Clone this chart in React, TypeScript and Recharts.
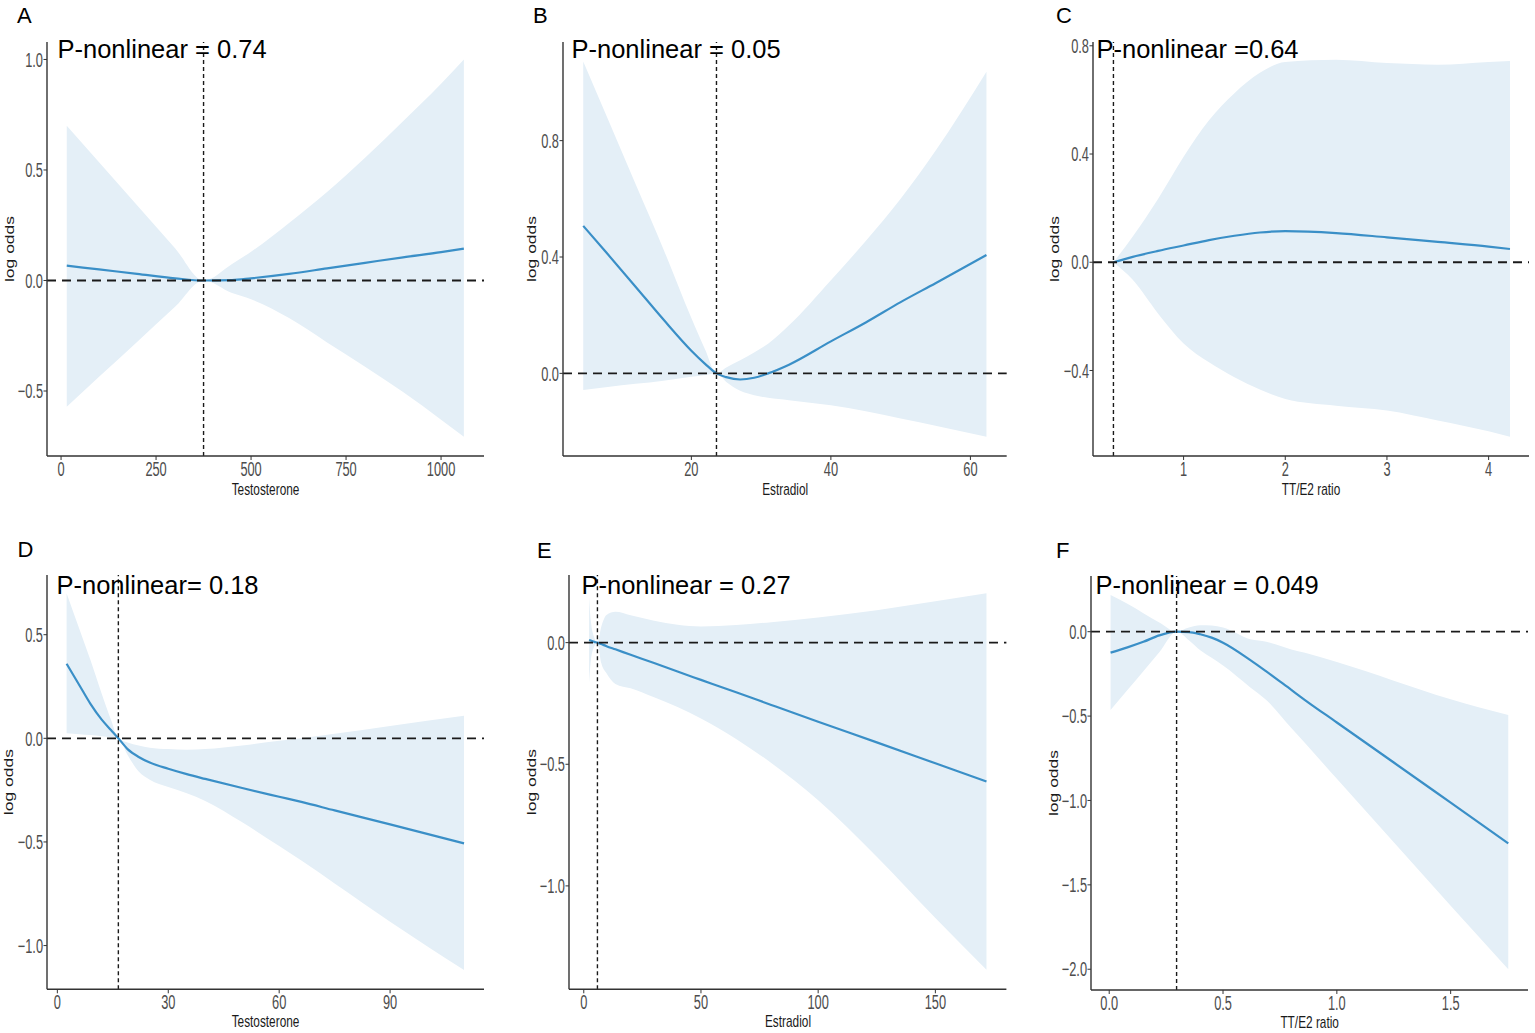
import React from "react";
import { ComposedChart, Area, Line, XAxis, YAxis, ReferenceLine } from "recharts";

// ---------- data ----------
// A: Testosterone (top row)
const aX = [15, 100, 200, 300, 375, 450, 500, 600, 700, 800, 900, 1000, 1060];
const aFit = [0.067, 0.05, 0.03, 0.01, 0, 0.002, 0.01, 0.03, 0.055, 0.08, 0.105, 0.128, 0.144];
const aLow = [-0.571, -0.436, -0.278, -0.119, 0, -0.057, -0.085, -0.17, -0.28, -0.39, -0.505, -0.63, -0.707];
const aHigh = [0.7, 0.535, 0.34, 0.146, 0, 0.075, 0.13, 0.26, 0.4, 0.555, 0.72, 0.89, 1.0];

// B: Estradiol (top row)
const bX = [4.5, 8, 12, 16, 20, 22, 23.6, 25, 27, 29, 31, 34, 40, 45, 50, 55, 62.3];
const bFit = [0.507, 0.41, 0.298, 0.185, 0.078, 0.032, 0, -0.013, -0.021, -0.015, 0, 0.03, 0.11, 0.175, 0.245, 0.31, 0.407];
const bLow = [-0.057, -0.047, -0.036, -0.025, -0.012, -0.006, 0, -0.03, -0.06, -0.075, -0.084, -0.092, -0.11, -0.13, -0.155, -0.18, -0.218];
const bHigh = [1.072, 0.876, 0.651, 0.427, 0.19, 0.08, 0, 0.02, 0.045, 0.072, 0.102, 0.165, 0.32, 0.455, 0.6, 0.765, 1.037];

// C: TT/E2 ratio (top row)
const cX = [0.31, 0.5, 0.75, 1.0, 1.25, 1.5, 1.75, 2.0, 2.5, 3.0, 3.5, 4.0, 4.21];
const cFit = [0, 0.02, 0.042, 0.062, 0.082, 0.098, 0.11, 0.115, 0.108, 0.092, 0.075, 0.058, 0.049];
const cLow = [0, -0.065, -0.19, -0.3, -0.37, -0.425, -0.47, -0.505, -0.53, -0.548, -0.585, -0.625, -0.645];
const cHigh = [0, 0.095, 0.235, 0.39, 0.525, 0.625, 0.7, 0.74, 0.748, 0.736, 0.73, 0.74, 0.744];

// D: Testosterone (bottom row)
const dX = [2.5, 6, 9, 12, 14.5, 16.5, 19, 22, 25, 30, 35, 40, 50, 60, 66, 75, 90, 110];
const dFit = [0.36, 0.255, 0.165, 0.09, 0.04, 0, -0.052, -0.09, -0.117, -0.147, -0.173, -0.196, -0.24, -0.282, -0.307, -0.348, -0.415, -0.507];
const dLow = [0.024, 0.02, 0.016, 0.01, 0.005, 0, -0.08, -0.16, -0.2, -0.235, -0.265, -0.302, -0.405, -0.52, -0.59, -0.7, -0.885, -1.118];
const dHigh = [0.7, 0.525, 0.375, 0.215, 0.09, 0, -0.02, -0.035, -0.045, -0.052, -0.055, -0.052, -0.035, -0.012, 0, 0.022, 0.06, 0.109];

// E: Estradiol (bottom row)
const eX = [2.27, 3.0, 4.5, 5.83, 7.5, 9.7, 13.5, 20, 30, 40, 50, 65, 80, 100, 125, 150, 171.8];
const eFit = [0.011, 0.0085, 0.0033, 0, -0.006, -0.0145, -0.0275, -0.05, -0.084, -0.119, -0.153, -0.204, -0.256, -0.325, -0.41, -0.496, -0.571];
const eLow = [-0.167, -0.075, -0.015, 0, -0.085, -0.126, -0.17, -0.188, -0.225, -0.265, -0.312, -0.396, -0.495, -0.648, -0.88, -1.132, -1.345];
const eHigh = [0.19, 0.09, 0.02, 0, 0.066, 0.114, 0.127, 0.113, 0.09, 0.073, 0.066, 0.072, 0.084, 0.103, 0.133, 0.17, 0.203];

// F: TT/E2 ratio (bottom row)
const fX = [0.006, 0.08, 0.15, 0.22, 0.296, 0.35, 0.4, 0.45, 0.5, 0.62, 0.69, 0.8, 0.86, 1.0, 1.25, 1.5, 1.753];
const fFit = [-0.124, -0.093, -0.06, -0.022, 0, -0.002, -0.015, -0.035, -0.065, -0.168, -0.235, -0.345, -0.405, -0.538, -0.775, -1.013, -1.254];
const fLow = [-0.464, -0.346, -0.234, -0.122, 0, -0.05, -0.11, -0.155, -0.2, -0.33, -0.405, -0.571, -0.66, -0.872, -1.248, -1.624, -2.0];
const fHigh = [0.217, 0.165, 0.11, 0.055, 0, 0.025, 0.038, 0.036, 0.025, -0.045, -0.06, -0.105, -0.125, -0.18, -0.29, -0.4, -0.493];

// tick values
const xTicksA = [0, 250, 500, 750, 1000];
const xTicksB = [20, 40, 60];
const xTicksC = [1, 2, 3, 4];
const xTicksD = [0, 30, 60, 90];
const xTicksE = [0, 50, 100, 150];
const xTicksF = [0, 0.5, 1.0, 1.5];
const yTicksA = [-0.5, 0, 0.5, 1.0];
const yTicksB = [0, 0.4, 0.8];
const yTicksC = [-0.4, 0, 0.4, 0.8];
const yTicksD = [-1.0, -0.5, 0, 0.5];
const yTicksE = [-1.0, -0.5, 0];
const yTicksF = [-2.0, -1.5, -1.0, -0.5, 0];

const refXs = [375, 23.6, 0.31, 16.5, 5.83, 0.296];
const letters = ["A", "B", "C", "D", "E", "F"];
const pTexts = [
  "P-nonlinear = 0.74",
  "P-nonlinear = 0.05",
  "P-nonlinear =0.64",
  "P-nonlinear= 0.18",
  "P-nonlinear = 0.27",
  "P-nonlinear = 0.049",
];
const xTitles = ["Testosterone", "Estradiol", "TT/E2 ratio", "Testosterone", "Estradiol", "TT/E2 ratio"];
const yTitle = "log odds";

// ---------- styling / layout ----------
const BAND = "#e4eff7";
const LINE = "#3a8fc7";
const AXIS = "#333333";
const TICK_TEXT = "#4d4d4d";
const FONT = "'Liberation Sans', Arial, Helvetica, sans-serif";
const YW = 60; // y-axis area width
const XH = 45; // x-axis area height
const TOP = 12; // room above the plot so top tick labels are not clipped

type Box = { x0: number; y0: number; x1: number; y1: number };

type PanelCfg = {
  x: number[];
  fit: number[];
  low: number[];
  high: number[];
  xTicks: number[];
  yTicks: number[];
  xDomain: [number, number];
  yDomain: [number, number];
  xDec: number;
  box: Box;
  yLabOff: number;
  letterPos: [number, number];
  pPos: [number, number];
};

const panels: PanelCfg[] = [
  {
    x: aX, fit: aFit, low: aLow, high: aHigh, xTicks: xTicksA, yTicks: yTicksA,
    xDomain: [-37, 1113], yDomain: [-0.794, 1.079], xDec: 0,
    box: { x0: 47, y0: 42, x1: 484, y1: 456 }, yLabOff: 33.4,
    letterPos: [17, 23.3], pPos: [57.5, 58.3],
  },
  {
    x: bX, fit: bFit, low: bLow, high: bHigh, xTicks: xTicksB, yTicks: yTicksB,
    xDomain: [1.6, 65.2], yDomain: [-0.284, 1.139], xDec: 0,
    box: { x0: 563.3, y0: 42, x1: 1007, y1: 456 }, yLabOff: 27,
    letterPos: [533, 23.3], pPos: [571.5, 58.3],
  },
  {
    x: cX, fit: cFit, low: cLow, high: cHigh, xTicks: xTicksC, yTicks: yTicksC,
    xDomain: [0.109, 4.403], yDomain: [-0.716, 0.814], xDec: 0,
    box: { x0: 1092.7, y0: 42, x1: 1529.3, y1: 456 }, yLabOff: 34,
    letterPos: [1056, 23.3], pPos: [1096.5, 58.3],
  },
  {
    x: dX, fit: dFit, low: dLow, high: dHigh, xTicks: xTicksD, yTicks: yTicksD,
    xDomain: [-2.8, 115.4], yDomain: [-1.211, 0.788], xDec: 0,
    box: { x0: 47, y0: 575, x1: 484, y1: 989.3 }, yLabOff: 34,
    letterPos: [17.5, 556.7], pPos: [56.5, 594.3],
  },
  {
    x: eX, fit: eFit, low: eLow, high: eHigh, xTicks: xTicksE, yTicks: yTicksE,
    xDomain: [-6.3, 180.3], yDomain: [-1.425, 0.278], xDec: 0,
    box: { x0: 569.3, y0: 575, x1: 1006.7, y1: 989.3 }, yLabOff: 33,
    letterPos: [537, 558], pPos: [581.5, 594.3],
  },
  {
    x: fX, fit: fFit, low: fLow, high: fHigh, xTicks: xTicksF, yTicks: yTicksF,
    xDomain: [-0.08, 1.841], yDomain: [-2.123, 0.33], xDec: 1,
    box: { x0: 1091, y0: 576, x1: 1528.3, y1: 990 }, yLabOff: 33,
    letterPos: [1056, 558], pPos: [1095.5, 594.3],
  },
];

function fmt(v: number, dec: number): string {
  const s = Math.abs(v).toFixed(dec);
  return v < 0 ? "\u2212" + s : s;
}

function XTick(props: any) {
  const { x, y, payload, dec } = props;
  return (
    <g transform={`translate(${x},${y})`}>
      <text
        transform="scale(0.64,1)"
        x={0}
        y={13.6}
        textAnchor="middle"
        fontSize={20}
        fontFamily={FONT}
        fill={TICK_TEXT}
      >
        {fmt(payload.value, dec)}
      </text>
    </g>
  );
}

function YTick(props: any) {
  const { x, y, payload } = props;
  return (
    <g transform={`translate(${x},${y})`}>
      <text
        transform="scale(0.64,1)"
        x={0}
        y={7.2}
        textAnchor="end"
        fontSize={20}
        fontFamily={FONT}
        fill={TICK_TEXT}
      >
        {fmt(payload.value, 1)}
      </text>
    </g>
  );
}

function Panel({ p }: { p: PanelCfg }) {
  const rows = p.x.map((x, i) => ({ x, fit: p.fit[i], band: [p.low[i], p.high[i]] }));
  const w = p.box.x1 - p.box.x0 + YW;
  const h = p.box.y1 - p.box.y0 + XH + TOP;
  const idx = panels.indexOf(p);
  return (
    <div style={{ position: "absolute", left: p.box.x0 - YW, top: p.box.y0 - TOP, width: w, height: h }}>
      <ComposedChart width={w} height={h} data={rows} margin={{ top: TOP, right: 0, bottom: 0, left: 0 }}>
        <XAxis
          type="number"
          dataKey="x"
          domain={p.xDomain}
          ticks={p.xTicks}
          interval={0}
          allowDataOverflow
          height={XH}
          tickSize={4}
          tickMargin={2}
          axisLine={{ stroke: AXIS, strokeWidth: 1.4 }}
          tickLine={{ stroke: AXIS, strokeWidth: 1 }}
          tick={(tp: any) => <XTick {...tp} dec={p.xDec} />}
        />
        <YAxis
          type="number"
          domain={p.yDomain}
          ticks={p.yTicks}
          interval={0}
          allowDataOverflow
          width={YW}
          tickSize={3.5}
          tickMargin={0.5}
          axisLine={{ stroke: AXIS, strokeWidth: 1.4 }}
          tickLine={{ stroke: AXIS, strokeWidth: 1 }}
          tick={(tp: any) => <YTick {...tp} />}
        />
        <Area
          dataKey="band"
          type="monotone"
          stroke="none"
          fill={BAND}
          fillOpacity={1}
          activeDot={false}
          isAnimationActive={false}
        />
        <Line
          dataKey="fit"
          type="monotone"
          stroke={LINE}
          strokeWidth={2.2}
          dot={false}
          activeDot={false}
          isAnimationActive={false}
        />
        <ReferenceLine y={0} stroke="#1a1a1a" strokeWidth={1.8} strokeDasharray="9 6" />
        <ReferenceLine x={refXs[idx]} stroke="#1a1a1a" strokeWidth={1.4} strokeDasharray="4 3" />
      </ComposedChart>
    </div>
  );
}

export default function App() {
  return (
    <div
      style={{
        position: "absolute",
        left: 0,
        top: 0,
        width: 1535,
        height: 1033,
        background: "#ffffff",
        fontFamily: FONT,
        overflow: "hidden",
      }}
    >
      {panels.map((p, i) => (
        <Panel key={i} p={p} />
      ))}
      <svg
        width={1535}
        height={1033}
        style={{ position: "absolute", left: 0, top: 0, pointerEvents: "none" }}
      >
        {panels.map((p, i) => {
          const cx = (p.box.x0 + p.box.x1) / 2;
          const cy = (p.box.y0 + p.box.y1) / 2;
          const titleY = p.box.y1 + (i < 3 ? 38.5 : 37.5);
          const ylx = p.box.x0 - p.yLabOff;
          return (
            <g key={i} fontFamily={FONT}>
              <text x={p.letterPos[0]} y={p.letterPos[1]} fontSize={22} fill="#000">
                {letters[i]}
              </text>
              <text x={p.pPos[0]} y={p.pPos[1]} fontSize={25.5} fill="#000">
                {pTexts[i]}
              </text>
              <text
                transform={`translate(${cx},${titleY}) scale(0.74,1)`}
                textAnchor="middle"
                fontSize={16}
                fill="#1a1a1a"
              >
                {xTitles[i]}
              </text>
              <text
                transform={`translate(${ylx},${cy}) scale(0.68,1) rotate(-90)`}
                textAnchor="middle"
                fontSize={17.5}
                fill="#1a1a1a"
              >
                {yTitle}
              </text>
            </g>
          );
        })}
      </svg>
    </div>
  );
}
